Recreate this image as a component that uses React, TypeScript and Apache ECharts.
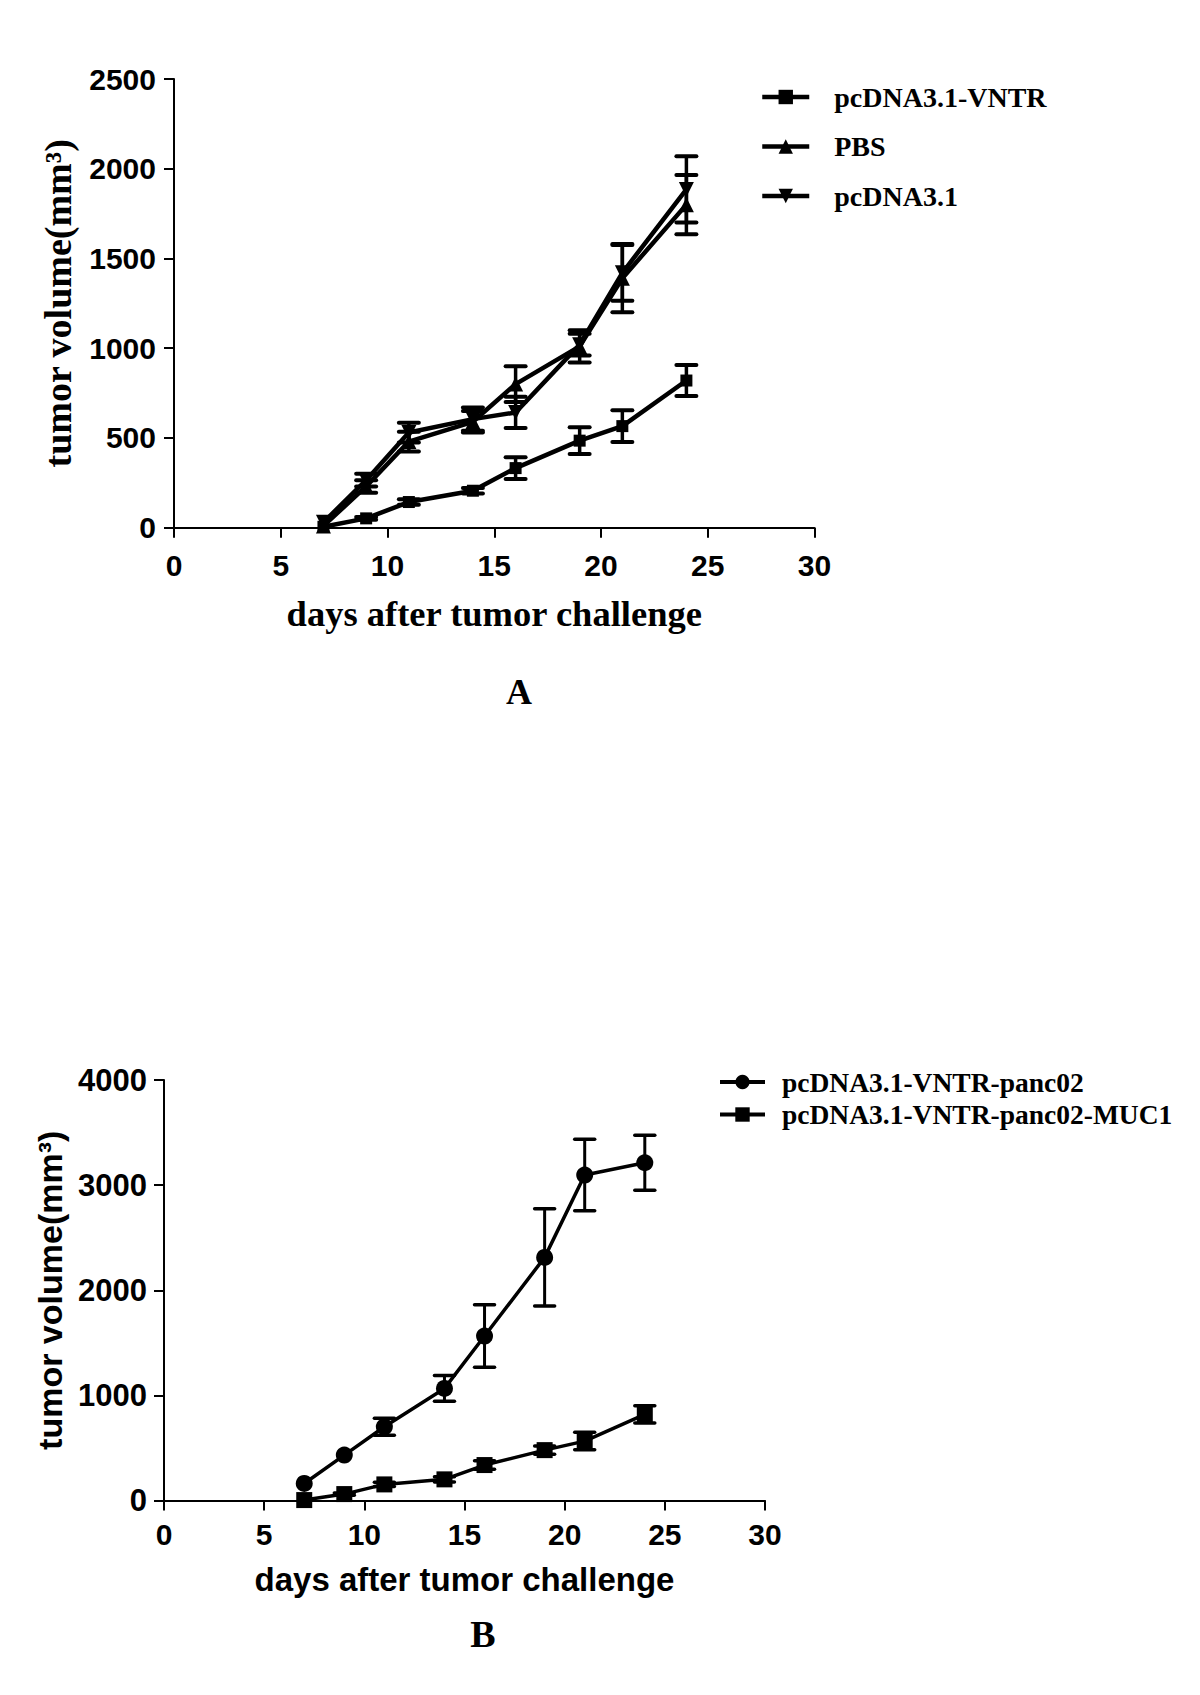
import React, { useEffect, useRef } from "react";
import * as echarts from "echarts";

// ---------- Panel A data ----------
const daysA = [7, 9, 11, 14, 16, 19, 21, 24];
const vntrA = [5, 52, 143, 206, 332, 485, 566, 820];
const vntrAErr = [0, 8, 15, 15, 60, 74, 88, 86];
const pbsA = [10, 230, 480, 590, 800, 1010, 1390, 1800];
const pbsAErr = [0, 35, 55, 60, 100, 90, 190, 165];
const pcdnaA = [30, 265, 530, 605, 642, 1020, 1420, 1885];
const pcdnaAErr = [0, 35, 55, 65, 87, 60, 155, 185];

// ---------- Panel B data ----------
const daysB = [7, 9, 11, 14, 16, 19, 21, 24];
const panc02B = [163, 433, 702, 1067, 1565, 2313, 3096, 3213];
const panc02BErr = [0, 0, 80, 122, 297, 463, 340, 262];
const muc1B = [5, 62, 154, 202, 338, 480, 566, 820];
const muc1BErr = [0, 10, 20, 25, 40, 40, 83, 82];

const namesA = ["pcDNA3.1-VNTR", "PBS", "pcDNA3.1"];
const namesB = ["pcDNA3.1-VNTR-panc02", "pcDNA3.1-VNTR-panc02-MUC1"];

const SANS = "'Liberation Sans', Arial, Helvetica, sans-serif";
const SERIF = "'Liberation Serif', 'Times New Roman', Times, serif";
const DOWN_TRI = "path://M0,0L20,0L10,18Z";

const pts = (days: number[], vals: number[]) => days.map((d, i) => [d, vals[i]]);
const errs = (days: number[], vals: number[], e: number[]) =>
  days
    .map((d, i) => [d, vals[i] - e[i], vals[i] + e[i]])
    .filter((_, i) => e[i] > 0);

const errRender = (capHalf: number, lw: number) => (params: any, api: any) => {
  const x = api.value(0);
  const top = api.coord([x, api.value(2)]);
  const bot = api.coord([x, api.value(1)]);
  const style = { stroke: "#000", lineWidth: lw, fill: null };
  const capStyle = { stroke: "#000", lineWidth: lw + 0.5, fill: null, lineCap: "round" };
  return {
    type: "group",
    children: [
      { type: "line", shape: { x1: top[0], y1: top[1], x2: bot[0], y2: bot[1] }, style },
      { type: "line", shape: { x1: top[0] - capHalf, y1: top[1], x2: top[0] + capHalf, y2: top[1] }, style: capStyle },
      { type: "line", shape: { x1: bot[0] - capHalf, y1: bot[1], x2: bot[0] + capHalf, y2: bot[1] }, style: capStyle },
    ],
  };
};

const plain = (v: number) => String(v);

const axisCommon = {
  axisLine: { show: true, onZero: false, lineStyle: { color: "#000", width: 2 } },
  axisTick: { show: true, inside: false, length: 10, lineStyle: { color: "#000", width: 2 } },
  splitLine: { show: false },
};

export default function App() {
  const ref = useRef<HTMLDivElement>(null);

  useEffect(() => {
    if (!ref.current) return;
    const chart = echarts.init(ref.current, null, { renderer: "svg" });

    const lineSeries = (name: string, data: number[][], symbol: string, size: number, lw: number, xi: number) => ({
      name,
      type: "line",
      xAxisIndex: xi,
      yAxisIndex: xi,
      data,
      symbol,
      symbolSize: size,
      showSymbol: true,
      lineStyle: { color: "#000", width: lw },
      itemStyle: { color: "#000" },
      z: 3,
    });

    const errSeries = (name: string, data: number[][], cap: number, lw: number, xi: number) => ({
      name,
      type: "custom",
      xAxisIndex: xi,
      yAxisIndex: xi,
      data,
      encode: { x: 0, y: [1, 2] },
      renderItem: errRender(cap, lw),
      z: 2,
      silent: true,
    });

    const option: any = {
      animation: false,
      backgroundColor: "#fff",
      grid: [
        { left: 174, top: 79, width: 640.5, height: 448.7 },
        { left: 164, top: 1080, width: 601, height: 420.6 },
      ],
      xAxis: [
        {
          ...axisCommon,
          gridIndex: 0,
          type: "value",
          min: 0,
          max: 30,
          interval: 5,
          axisLabel: { color: "#000", fontFamily: SANS, fontWeight: "bold", fontSize: 30, margin: 23, formatter: plain },
          name: "days after tumor challenge",
          nameLocation: "middle",
          nameGap: 67,
          nameTextStyle: { color: "#000", fontFamily: SERIF, fontWeight: "bold", fontSize: 36.5 },
        },
        {
          ...axisCommon,
          gridIndex: 1,
          type: "value",
          min: 0,
          max: 30,
          interval: 5,
          axisLabel: { color: "#000", fontFamily: SANS, fontWeight: "bold", fontSize: 30, margin: 19, formatter: plain },
          name: "days after tumor challenge",
          nameLocation: "middle",
          nameGap: 62,
          nameTextStyle: { color: "#000", fontFamily: SANS, fontWeight: "bold", fontSize: 33 },
        },
      ],
      yAxis: [
        {
          ...axisCommon,
          gridIndex: 0,
          type: "value",
          min: 0,
          max: 2500,
          interval: 500,
          axisLabel: { color: "#000", fontFamily: SANS, fontWeight: "bold", fontSize: 30, margin: 18, formatter: plain },
          name: "tumor volume(mm³)",
          nameLocation: "middle",
          nameGap: 97,
          nameTextStyle: { color: "#000", fontFamily: SERIF, fontWeight: "bold", fontSize: 38 },
        },
        {
          ...axisCommon,
          gridIndex: 1,
          type: "value",
          min: 0,
          max: 4000,
          interval: 1000,
          axisLabel: { color: "#000", fontFamily: SANS, fontWeight: "bold", fontSize: 31, margin: 17, formatter: plain },
          name: "tumor volume(mm³)",
          nameLocation: "middle",
          nameGap: 96,
          nameTextStyle: { color: "#000", fontFamily: SANS, fontWeight: "bold", fontSize: 34 },
        },
      ],
      legend: [
        {
          data: namesA,
          orient: "vertical",
          left: 760,
          top: 83,
          padding: 0,
          itemWidth: 47,
          itemHeight: 18,
          itemGap: 21.5,
          selectedMode: false,
          lineStyle: { width: 4.5 },
          textStyle: {
            color: "#000",
            fontFamily: SERIF,
            fontWeight: "bold",
            fontSize: 28,
            lineHeight: 28,
            padding: [0, 0, 0, 20],
          },
        },
        {
          data: namesB,
          orient: "vertical",
          left: 718,
          top: 1068,
          padding: 0,
          itemWidth: 45,
          itemHeight: 18,
          itemGap: 4.5,
          selectedMode: false,
          lineStyle: { width: 4 },
          textStyle: {
            color: "#000",
            fontFamily: SERIF,
            fontWeight: "bold",
            fontSize: 27.5,
            lineHeight: 27,
            padding: [0, 0, 0, 12],
          },
        },
      ],
      graphic: [
        {
          type: "text",
          x: 519,
          y: 692,
          style: {
            text: "A",
            fill: "#000",
            font: `bold 36px ${SERIF}`,
            textAlign: "center",
            textVerticalAlign: "middle",
          },
        },
        {
          type: "text",
          x: 483,
          y: 1634,
          style: {
            text: "B",
            fill: "#000",
            font: `bold 38px ${SERIF}`,
            textAlign: "center",
            textVerticalAlign: "middle",
          },
        },
      ],
      series: [
        errSeries("errA1", errs(daysA, vntrA, vntrAErr), 10, 3.5, 0),
        errSeries("errA2", errs(daysA, pbsA, pbsAErr), 10, 3.5, 0),
        errSeries("errA3", errs(daysA, pcdnaA, pcdnaAErr), 10, 3.5, 0),
        lineSeries(namesA[0], pts(daysA, vntrA), "rect", 12, 4.5, 0),
        lineSeries(namesA[1], pts(daysA, pbsA), "triangle", 15, 4.5, 0),
        lineSeries(namesA[2], pts(daysA, pcdnaA), DOWN_TRI, 15, 4.5, 0),

        errSeries("errB1", errs(daysB, panc02B, panc02BErr), 10, 3, 1),
        errSeries("errB2", errs(daysB, muc1B, muc1BErr), 10, 3, 1),
        lineSeries(namesB[0], pts(daysB, panc02B), "circle", 17, 3.5, 1),
        lineSeries(namesB[1], pts(daysB, muc1B), "rect", 16, 3.5, 1),
      ],
    };

    chart.setOption(option);
    return () => chart.dispose();
  }, []);

  return (
    <div
      ref={ref}
      style={{ position: "absolute", left: 0, top: 0, width: 1200, height: 1695 }}
    />
  );
}
